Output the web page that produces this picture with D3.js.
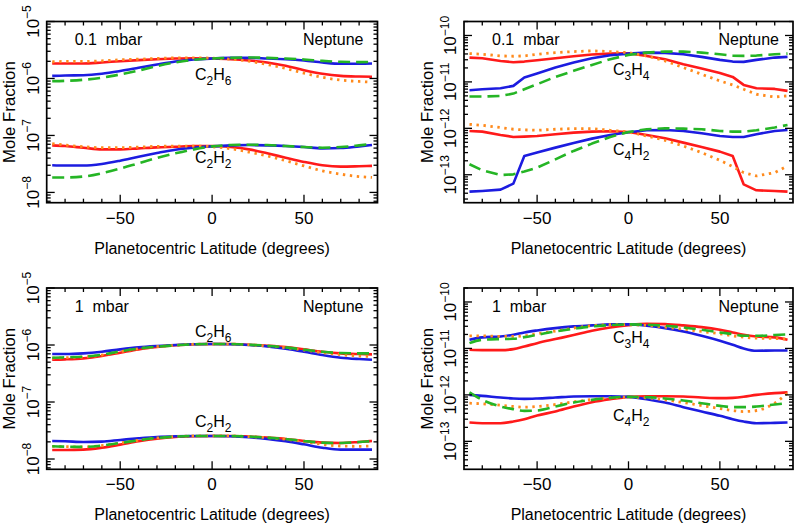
<!DOCTYPE html>
<html><head><meta charset="utf-8">
<script src="https://cdn.jsdelivr.net/npm/d3@7"></script>
<style>
body{margin:0;background:#fff}
text{font-family:"Liberation Sans",Arial,sans-serif;fill:#000}
</style>
</head><body>
<svg id="c" width="800" height="525"></svg>
<script>
// ---------- DATA ----------
const lat19 = [-87,-80,-70,-60,-50,-40,-30,-20,-10,0,10,20,30,40,50,60,70,80,87];
const lat21 = [-87,-80,-70,-63,-57,-50,-40,-30,-20,-10,0,10,20,30,40,50,57,63,70,80,87];

// top-left, 0.1 mbar  (C2H6 in 1e-6, C2H2 in 1e-8)
const tlC2H6Red    = [1.83,1.83,1.83,1.91,2.01,2.10,2.18,2.24,2.27,2.24,2.18,2.07,1.91,1.67,1.40,1.21,1.11,1.08,1.07];
const tlC2H6Orange = [1.96,1.99,1.99,2.04,2.13,2.18,2.24,2.30,2.30,2.27,2.18,2.01,1.76,1.50,1.24,1.05,0.935,0.886,0.862];
const tlC2H6Blue   = [1.11,1.13,1.14,1.21,1.35,1.54,1.76,1.99,2.15,2.24,2.30,2.30,2.24,2.18,2.07,1.91,1.81,1.81,1.83];
const tlC2H6Green  = [0.898,0.910,0.948,1.03,1.18,1.38,1.65,1.91,2.13,2.24,2.30,2.34,2.30,2.24,2.15,2.04,1.96,1.94,1.96];
const tlC2H2Red    = [6.69,6.52,6.09,5.70,5.70,5.93,6.18,6.34,6.52,6.52,6.26,5.70,4.85,4.07,3.43,3.00,2.84,2.88,2.92];
const tlC2H2Orange = [7.16,6.78,6.34,6.09,6.09,6.26,6.43,6.52,6.52,6.34,5.85,5.12,4.36,3.61,2.92,2.39,2.09,1.90,1.83];
const tlC2H2Blue   = [3.00,2.96,2.96,3.16,3.61,4.24,4.92,5.62,6.09,6.43,6.69,6.78,6.69,6.52,6.26,5.93,6.01,6.43,6.78];
const tlC2H2Green  = [1.83,1.83,1.90,2.17,2.62,3.25,4.03,4.85,5.70,6.43,6.78,6.87,6.78,6.52,6.26,6.09,6.26,6.69,7.06];

// top-right, 0.1 mbar  (C3H4 in 1e-11, C4H2 in 1e-13)
const trC3H4Red    = [3.34,3.24,2.83,2.65,2.74,2.93,3.24,3.57,3.88,4.07,4.15,3.63,3.08,2.40,1.94,1.56,1.28,0.861,0.730,0.706,0.640];
const trC3H4Orange = [4.07,3.94,3.63,3.57,3.63,3.94,4.28,4.50,4.66,4.50,4.28,3.63,2.83,2.04,1.46,1.05,0.861,0.695,0.542,0.474,0.499];
const trC3H4Blue   = [0.661,0.695,0.730,0.820,1.24,1.51,2.04,2.61,3.24,3.75,4.07,4.28,4.21,3.94,3.46,2.98,2.74,2.70,2.98,3.34,3.46];
const trC3H4Green  = [0.483,0.483,0.499,0.560,0.695,0.889,1.28,1.73,2.32,3.08,3.82,4.28,4.50,4.50,4.28,3.94,3.69,3.63,3.69,3.94,4.07];
const trC4H2Red    = [8.79,8.49,7.20,6.52,6.63,6.85,7.45,8.09,8.49,8.63,8.36,7.20,6.11,4.92,3.97,3.15,2.54,0.622,0.462,0.448,0.433];
const trC4H2Orange = [12.2,11.6,10.4,9.55,9.23,9.08,9.55,9.86,9.86,9.08,8.36,6.85,5.53,4.17,3.00,2.05,1.50,1.11,0.942,1.11,1.55];
const trC4H2Blue   = [0.433,0.448,0.478,0.644,2.54,3.00,3.84,4.84,6.00,7.20,8.22,9.08,9.23,8.79,7.82,6.85,6.52,6.52,7.45,8.79,9.23];
const trC4H2Green  = [1.68,1.25,0.989,1.02,1.17,1.42,2.15,3.26,4.69,6.52,8.36,9.55,10.0,9.86,9.55,8.79,8.49,8.49,9.08,10.4,11.8];

// bottom-left, 1 mbar  (C2H6 in 1e-6, C2H2 in 1e-8)
const blC2H6Red    = [0.552,0.560,0.583,0.641,0.733,0.839,0.922,0.987,1.03,1.04,1.04,1.01,0.973,0.922,0.839,0.763,0.714,0.694,0.685];
const blC2H6Orange = [0.590,0.599,0.615,0.667,0.763,0.862,0.935,0.987,1.03,1.04,1.04,1.01,0.960,0.898,0.817,0.733,0.676,0.641,0.632];
const blC2H6Blue   = [0.694,0.694,0.714,0.763,0.839,0.910,0.960,1.00,1.03,1.04,1.03,1.00,0.947,0.862,0.763,0.667,0.599,0.567,0.552];
const blC2H6Green  = [0.599,0.607,0.623,0.676,0.774,0.862,0.935,0.987,1.03,1.04,1.04,1.01,0.973,0.910,0.828,0.763,0.723,0.714,0.714];
const blC2H2Red    = [1.44,1.44,1.46,1.58,1.79,2.05,2.28,2.44,2.51,2.54,2.54,2.47,2.37,2.25,2.07,1.94,1.91,1.99,2.07];
const blC2H2Orange = [1.67,1.65,1.63,1.72,1.91,2.13,2.34,2.47,2.54,2.54,2.54,2.47,2.37,2.22,2.02,1.81,1.69,1.67,1.69];
const blC2H2Blue   = [2.07,2.05,1.99,2.02,2.16,2.31,2.44,2.51,2.54,2.54,2.51,2.41,2.25,2.05,1.81,1.58,1.46,1.46,1.46];
const blC2H2Green  = [1.67,1.65,1.63,1.72,1.91,2.13,2.34,2.47,2.54,2.54,2.54,2.47,2.37,2.25,2.07,1.94,1.91,1.99,2.05];

// bottom-right, 1 mbar  (C3H4 in 1e-11, C4H2 in 1e-13)
const brC3H4Red    = [0.935,0.920,0.920,0.967,1.10,1.30,1.59,1.94,2.40,2.83,3.18,3.40,3.34,3.13,2.88,2.52,2.21,1.97,1.81,1.73,1.54];
const brC3H4Orange = [1.87,1.87,1.81,1.81,1.87,2.07,2.36,2.74,3.08,3.24,3.24,3.13,2.88,2.61,2.32,2.07,1.87,1.75,1.67,1.64,1.59];
const brC3H4Blue   = [1.54,1.73,1.81,1.97,2.21,2.44,2.74,2.98,3.13,3.29,3.29,3.08,2.74,2.32,1.87,1.46,1.20,1.00,0.890,0.905,0.905];
const brC3H4Green  = [1.30,1.54,1.59,1.61,1.75,1.97,2.32,2.65,2.98,3.18,3.29,3.24,3.08,2.83,2.52,2.21,2.04,1.87,1.87,1.94,2.00];
const brC4H2Red    = [2.54,2.46,2.46,2.67,3.00,3.60,4.38,5.62,6.97,8.09,9.08,9.38,9.38,9.23,8.78,8.50,8.64,9.08,10.0,10.9,11.3];
const brC4H2Orange = [6.63,6.42,6.00,5.62,5.44,5.62,6.21,7.08,7.96,8.64,8.93,8.64,7.82,6.85,5.91,5.09,4.61,4.38,4.61,6.63,10.9];
const brC4H2Blue   = [10.0,9.54,8.78,8.36,8.22,8.36,8.78,9.23,9.38,9.38,9.08,8.09,6.85,5.44,4.38,3.54,3.00,2.67,2.46,2.50,2.54];
const brC4H2Green  = [11.3,7.82,5.62,4.92,4.53,4.61,5.62,6.85,7.82,8.64,9.08,8.93,8.36,7.57,6.63,5.81,5.44,5.44,5.62,6.21,6.63];

const xTicks = [-80,-70,-60,-50,-40,-30,-20,-10,0,10,20,30,40,50,60,70,80];
const xMajor = [-50,0,50];
const xTitle = "Planetocentric Latitude (degrees)";
const yTitle = "Mole Fraction";
const planet = "Neptune";

// ---------- STYLE ----------
const styles = {
  red:    {color:"#ff1a1a", dash:null,    w:2.6},
  blue:   {color:"#1c1ce0", dash:null,    w:2.6},
  orange: {color:"#ff8a1c", dash:"2.4,4.6", w:2.8},
  green:  {color:"#25b525", dash:"12,6",  w:2.6}
};
const order = ["red","blue","orange","green"];

const panels = [
  {x0:46.7, x1:377.5, y0:21.5, y1:202.7, dom:[6.6e-9,1e-5], lats:lat19, curve:d3.curveMonotoneX, p:"0.1  mbar",
   groups:[
    {sub:["C","2","H","6"], k:1e-6, lx:195, ly:80,  s:{red:tlC2H6Red,orange:tlC2H6Orange,blue:tlC2H6Blue,green:tlC2H6Green}},
    {sub:["C","2","H","2"], k:1e-8, lx:195, ly:162.5, s:{red:tlC2H2Red,orange:tlC2H2Orange,blue:tlC2H2Blue,green:tlC2H2Green}}]},
  {x0:464, x1:793, y0:21.5, y1:202.7, dom:[2.5e-14,2e-10], lats:lat21, curve:d3.curveLinear, p:"0.1  mbar",
   groups:[
    {sub:["C","3","H","4"], k:1e-11, lx:613, ly:75,  s:{red:trC3H4Red,orange:trC3H4Orange,blue:trC3H4Blue,green:trC3H4Green}},
    {sub:["C","4","H","2"], k:1e-13, lx:613, ly:155, s:{red:trC4H2Red,orange:trC4H2Orange,blue:trC4H2Blue,green:trC4H2Green}}]},
  {x0:46.7, x1:377.5, y0:288, y1:469.3, dom:[6.6e-9,1e-5], lats:lat19, curve:d3.curveMonotoneX, p:"1  mbar",
   groups:[
    {sub:["C","2","H","6"], k:1e-6, lx:195, ly:337, s:{red:blC2H6Red,orange:blC2H6Orange,blue:blC2H6Blue,green:blC2H6Green}},
    {sub:["C","2","H","2"], k:1e-8, lx:195, ly:427, s:{red:blC2H2Red,orange:blC2H2Orange,blue:blC2H2Blue,green:blC2H2Green}}]},
  {x0:464, x1:793, y0:288, y1:469.3, dom:[2.5e-14,2e-10], lats:lat21, curve:d3.curveMonotoneX, p:"1  mbar",
   groups:[
    {sub:["C","3","H","4"], k:1e-11, lx:613, ly:343, s:{red:brC3H4Red,orange:brC3H4Orange,blue:brC3H4Blue,green:brC3H4Green}},
    {sub:["C","4","H","2"], k:1e-13, lx:613, ly:421, s:{red:brC4H2Red,orange:brC4H2Orange,blue:brC4H2Blue,green:brC4H2Green}}]}
];

const svg = d3.select("#c");
const FS = 16, SS = 12;

panels.forEach((P,pi)=>{
  const g = svg.append("g");
  const x = d3.scaleLinear().domain([-90,90]).range([P.x0,P.x1]);
  const y = d3.scaleLog().domain(P.dom).range([P.y1,P.y0]);
  const clipId = "clip"+pi;
  g.append("clipPath").attr("id",clipId).append("rect")
    .attr("x",P.x0).attr("y",P.y0).attr("width",P.x1-P.x0).attr("height",P.y1-P.y0);

  // data lines
  const lg = g.append("g").attr("clip-path","url(#"+clipId+")");
  P.groups.forEach(G=>{
    order.forEach(key=>{
      const st = styles[key];
      const vals = G.s[key];
      const line = d3.line().curve(P.curve).x((d,i)=>x(P.lats[i])).y(d=>y(d*G.k));
      lg.append("path").attr("d",line(vals)).attr("fill","none")
        .attr("stroke",st.color).attr("stroke-width",st.w)
        .attr("stroke-dasharray",st.dash).attr("stroke-linejoin","round");
    });
  });

  // frame
  g.append("rect").attr("x",P.x0).attr("y",P.y0).attr("width",P.x1-P.x0).attr("height",P.y1-P.y0)
    .attr("fill","none").attr("stroke","#000").attr("stroke-width",1.7);

  // x ticks (bottom up, top down)
  xTicks.forEach(t=>{
    const L = xMajor.includes(t)?8:4;
    const xx = x(t);
    g.append("line").attr("x1",xx).attr("x2",xx).attr("y1",P.y1).attr("y2",P.y1-L).attr("stroke","#000").attr("stroke-width",1.3);
    g.append("line").attr("x1",xx).attr("x2",xx).attr("y1",P.y0).attr("y2",P.y0+L).attr("stroke","#000").attr("stroke-width",1.3);
  });
  xMajor.forEach(t=>{
    g.append("text").attr("x",x(t)).attr("y",P.y1+21).attr("text-anchor","middle")
      .attr("font-size",17).text(t<0?"\u2212"+Math.abs(t):String(t));
  });
  g.append("text").attr("x",(P.x0+P.x1)/2).attr("y",P.y1+51).attr("text-anchor","middle")
    .attr("font-size",FS).text(xTitle);

  // y log ticks
  const lo = Math.floor(Math.log10(P.dom[0])), hi = Math.ceil(Math.log10(P.dom[1]));
  for(let d=lo; d<=hi; d++){
    for(let m=1; m<=9; m++){
      const v = m*Math.pow(10,d);
      if(v < P.dom[0]*0.999 || v > P.dom[1]*1.001) continue;
      const yy = y(v), L = m===1?8:4;
      g.append("line").attr("x1",P.x0).attr("x2",P.x0+L).attr("y1",yy).attr("y2",yy).attr("stroke","#000").attr("stroke-width",1.3);
      g.append("line").attr("x1",P.x1).attr("x2",P.x1-L).attr("y1",yy).attr("y2",yy).attr("stroke","#000").attr("stroke-width",1.3);
      if(m===1){
        const t = g.append("text").attr("transform",`translate(${P.x0-8},${yy}) rotate(-90)`)
          .attr("text-anchor","middle").attr("font-size",17);
        t.append("tspan").text("10");
        t.append("tspan").attr("font-size",SS).attr("dy",-7.5).text("\u2212"+Math.abs(d));
      }
    }
  }
  g.append("text").attr("transform",`translate(${P.x0-31.5},${(P.y0+P.y1)/2}) rotate(-90)`)
    .attr("text-anchor","middle").attr("font-size",16.8).text(yTitle);

  // annotations
  g.append("text").attr("x",P.x0+28).attr("y",P.y0+23.5).attr("font-size",FS)
    .style("white-space","pre").text(P.p);
  g.append("text").attr("x",P.x1-14).attr("y",P.y0+23.5).attr("font-size",FS)
    .attr("text-anchor","end").text(planet);

  P.groups.forEach(G=>{
    const t = g.append("text").attr("x",G.lx).attr("y",G.ly).attr("font-size",FS);
    t.append("tspan").text(G.sub[0]);
    t.append("tspan").attr("font-size",SS).attr("dy",5).text(G.sub[1]);
    t.append("tspan").attr("dy",-5).text(G.sub[2]);
    t.append("tspan").attr("font-size",SS).attr("dy",5).text(G.sub[3]);
  });
});
</script>
</body></html>
